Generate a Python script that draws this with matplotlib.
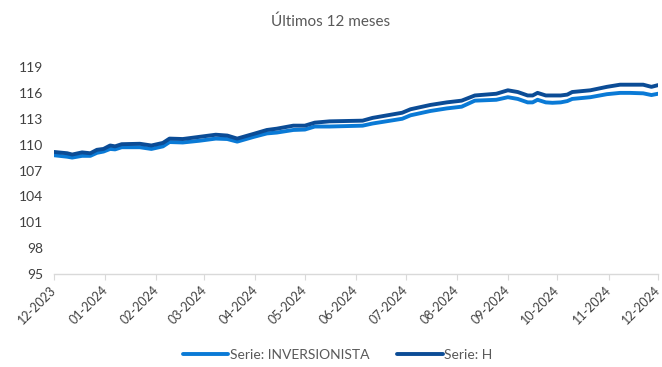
import pandas as pd
import matplotlib.pyplot as plt
import matplotlib.dates as mdates
import matplotlib.transforms as mtransforms

plt.rcParams['font.family'] = ['Lato', 'DejaVu Sans']

fechas = ['2023-12-01', '2023-12-09', '2023-12-12', '2023-12-18', '2023-12-23',
          '2023-12-27', '2023-12-31', '2024-01-04', '2024-01-07', '2024-01-11',
          '2024-01-22', '2024-01-29', '2024-02-05', '2024-02-09', '2024-02-17',
          '2024-02-27', '2024-03-08', '2024-03-15', '2024-03-21', '2024-03-31',
          '2024-04-08', '2024-04-14', '2024-04-24', '2024-05-01', '2024-05-07',
          '2024-05-16', '2024-06-05', '2024-06-11', '2024-06-29', '2024-07-04',
          '2024-07-16', '2024-07-26', '2024-08-04', '2024-08-12', '2024-08-25',
          '2024-09-01', '2024-09-07', '2024-09-13', '2024-09-16', '2024-09-19',
          '2024-09-24', '2024-09-28', '2024-10-03', '2024-10-07', '2024-10-10',
          '2024-10-21', '2024-10-31', '2024-11-08', '2024-11-14', '2024-11-22',
          '2024-11-27', '2024-12-01']

serie_h = [109.15, 109.0, 108.85, 109.1, 109.0,
           109.4, 109.5, 109.9, 109.8, 110.05,
           110.1, 109.9, 110.2, 110.7, 110.65,
           110.9, 111.15, 111.05, 110.7, 111.25,
           111.7, 111.85, 112.2, 112.2, 112.55,
           112.7, 112.78, 113.1, 113.7, 114.1,
           114.6, 114.9, 115.1, 115.7, 115.9,
           116.3, 116.1, 115.7, 115.7, 116.0,
           115.7, 115.7, 115.7, 115.8, 116.1,
           116.3, 116.7, 116.95, 116.95, 116.95,
           116.7, 116.9]

serie_inv = [108.77, 108.6, 108.5, 108.7, 108.7,
             109.05, 109.2, 109.5, 109.45, 109.7,
             109.7, 109.5, 109.8, 110.3, 110.25,
             110.45, 110.7, 110.65, 110.35, 110.9,
             111.3, 111.4, 111.7, 111.75, 112.1,
             112.1, 112.2, 112.45, 113.0, 113.4,
             113.9, 114.2, 114.4, 115.1, 115.2,
             115.5, 115.3, 114.9, 114.9, 115.2,
             114.9, 114.85, 114.9, 115.05, 115.3,
             115.5, 115.85, 116.0, 116.0, 115.95,
             115.75, 115.9]

x = pd.to_datetime(fechas)

fig = plt.figure(figsize=(6.62, 3.67), dpi=100)
ax = fig.add_axes([0.0816, 0.2534, 0.9124, 0.564])

ax.plot(x, serie_inv, color='#0A7AD6', linewidth=2.8, label='Serie: INVERSIONISTA',
        solid_capstyle='round')
ax.plot(x, serie_h, color='#0B4C96', linewidth=2.8, label='Serie: H',
        solid_capstyle='round')

ax.set_ylim(95, 119)
ax.set_yticks(range(95, 120, 3))
ax.set_xlim(pd.Timestamp('2023-12-01'), pd.Timestamp('2024-12-01'))
ax.xaxis.set_major_locator(mdates.MonthLocator())
ax.xaxis.set_major_formatter(mdates.DateFormatter('%m-%Y'))

for s in ['top', 'right', 'left']:
    ax.spines[s].set_visible(False)
ax.spines['bottom'].set_color('#d9d9d9')
ax.spines['bottom'].set_linewidth(1.0)
ax.tick_params(axis='y', length=0, labelsize=10, labelcolor='#404040', pad=8)
ax.tick_params(axis='x', length=4, color='#d9d9d9', labelsize=9, labelcolor='#404040',
               pad=3)
# nudge the rotated month labels a little left so the last one stays inside
shift = mtransforms.ScaledTranslation(-4 / 100, 0, fig.dpi_scale_trans)
for lbl in ax.get_xticklabels():
    lbl.set_rotation(45)
    lbl.set_ha('right')
    lbl.set_rotation_mode('anchor')
    lbl.set_transform(lbl.get_transform() + shift)

fig.text(0.5, 0.94, 'Últimos 12 meses', ha='center', va='center',
         fontsize=11, color='#595959')

leg = fig.legend(loc='center', bbox_to_anchor=(0.51, 0.032), ncol=2, frameon=False,
                 fontsize=10, handlelength=3.3, handletextpad=0.1, columnspacing=2.0)
for t in leg.get_texts():
    t.set_color('#595959')

fig.savefig('out.png', dpi=100)
